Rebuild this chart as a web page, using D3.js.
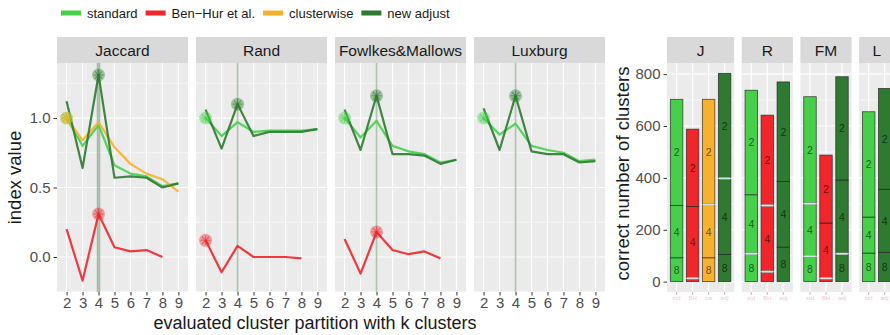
<!DOCTYPE html>
<html>
<head>
<meta charset="utf-8">
<script src="https://cdn.jsdelivr.net/npm/d3@7"></script>
<style>
  body { margin: 0; background: #fff; }
  svg { display: block; font-family: "Liberation Sans", Arial, sans-serif; }
</style>
</head>
<body>
<div id="chart"></div>
<script>
// ---- data ----
const ks = [2, 3, 4, 5, 6, 7, 8, 9];
const indices = ['Jaccard', 'Rand', 'Fowlkes&Mallows', 'Luxburg'];
const methods = ['standard', 'Ben\u2212Hur et al.', 'clusterwise', 'new adjust'];
const methodColors = ['#46d04a', '#f0262b', '#f8b12c', '#2e7a30'];

const jacStandard = [1.00, 0.80, 0.95, 0.66, 0.60, 0.58, 0.51, 0.53];
const jacBenHur = [0.20, -0.17, 0.31, 0.07, 0.04, 0.05, 0.00, null];
const jacClusterwise = [1.00, 0.84, 0.97, 0.79, 0.67, 0.60, 0.56, 0.47];
const jacNewAdjust = [1.12, 0.64, 1.31, 0.57, 0.58, 0.57, 0.50, 0.53];

const randStandard = [1.00, 0.87, 0.97, 0.90, 0.91, 0.91, 0.91, 0.92];
const randBenHur = [0.12, -0.11, 0.08, 0.00, 0.00, 0.00, -0.01, null];
const randNewAdjust = [1.06, 0.78, 1.10, 0.87, 0.90, 0.90, 0.90, 0.92];

const fmStandard = [1.00, 0.86, 0.98, 0.80, 0.76, 0.74, 0.68, 0.70];
const fmBenHur = [0.13, -0.12, 0.18, 0.05, 0.02, 0.04, -0.01, null];
const fmNewAdjust = [1.06, 0.77, 1.16, 0.74, 0.74, 0.73, 0.67, 0.70];

const luxStandard = [1.00, 0.88, 0.96, 0.80, 0.77, 0.75, 0.69, 0.70];
const luxNewAdjust = [1.07, 0.77, 1.16, 0.76, 0.74, 0.74, 0.68, 0.69];

const trueK = 4;

// bar part: counts of chosen k, stacked [k8, k5-7, k4, k3, k2]
const barFacets = ['J', 'R', 'FM', 'L'];
const segKeys = ['8', 'mid', '4', '3', '2'];
const barMethodsJ = [0, 1, 2, 3];
const barMethodsR = [0, 1, 3];
const barMethodsFM = [0, 1, 3];
const barMethodsL = [0, 3];
const countsJ = [[92, 0, 202, 0, 409], [10, 5, 275, 0, 298], [92, 0, 202, 5, 404], [105, 0, 290, 6, 402]];
const countsR = [[105, 5, 225, 0, 403], [36, 5, 250, 5, 346], [133, 0, 253, 0, 384]];
const countsFM = [[95, 5, 198, 5, 410], [10, 5, 211, 0, 262], [105, 5, 282, 0, 398]];
const countsL = [[110, 0, 139, 0, 406], [113, 0, 243, 0, 389]];
const barTickLabels = ['std', 'BH', 'cw', 'adj'];

const lineFacets = [
  { name: 'Jaccard', series: [[0, jacStandard], [1, jacBenHur], [2, jacClusterwise], [3, jacNewAdjust]] },
  { name: 'Rand', series: [[0, randStandard], [1, randBenHur], [3, randNewAdjust]] },
  { name: 'Fowlkes&Mallows', series: [[0, fmStandard], [1, fmBenHur], [3, fmNewAdjust]] },
  { name: 'Luxburg', series: [[0, luxStandard], [3, luxNewAdjust]] },
];
const barData = [
  { name: 'J', methods: barMethodsJ, counts: countsJ },
  { name: 'R', methods: barMethodsR, counts: countsR },
  { name: 'FM', methods: barMethodsFM, counts: countsFM },
  { name: 'L', methods: barMethodsL, counts: countsL },
];

// ---- layout ----
const W = 890, H = 335;
const panelTop = 63, panelBottom = 292, stripH = 26;
const linePanelW = 131, panelGap = 8, lineX0 = 57;
const barX0 = 667, barUnit = 16, barGap = 7.5;
const tickCol = '#4d4d4d', panelBg = '#ebebeb', stripBg = '#d9d9d9';

const svg = d3.select('#chart').append('svg')
  .attr('width', W)
  .attr('height', H);

function strip(x0, w, label) {
  svg.append('rect')
    .attr('x', x0).attr('y', panelTop - stripH)
    .attr('width', w).attr('height', stripH)
    .attr('fill', stripBg);
  svg.append('text')
    .attr('x', x0 + w / 2).attr('y', panelTop - stripH / 2 + 5.5)
    .attr('text-anchor', 'middle')
    .attr('font-size', 15.5)
    .attr('fill', '#1a1a1a')
    .text(label);
}

// ---- legend ----
const legend = svg.append('g');
let lx = 61;
methods.forEach((m, i) => {
  legend.append('rect')
    .attr('x', lx).attr('y', 10.5)
    .attr('width', 20).attr('height', 5)
    .attr('fill', methodColors[i]);
  const t = legend.append('text')
    .attr('x', lx + 26).attr('y', 17.5)
    .attr('font-size', 13)
    .attr('fill', '#1a1a1a')
    .text(m);
  lx += 26 + t.node().getComputedTextLength() + 8;
});

// ---- line panels ----
const y = d3.scaleLinear().domain([-0.252, 1.396]).range([panelBottom, panelTop]);

lineFacets.forEach((facet, fi) => {
  const x0 = lineX0 + fi * (linePanelW + panelGap);
  const x = d3.scalePoint().domain(ks).range([x0, x0 + linePanelW]).padding(0.6);
  const g = svg.append('g');

  g.append('rect')
    .attr('x', x0).attr('y', panelTop)
    .attr('width', linePanelW).attr('height', panelBottom - panelTop)
    .attr('fill', panelBg);
  g.selectAll('.minor')
    .data([-0.25, 0.25, 0.75, 1.25])
    .enter().append('line')
      .attr('x1', x0).attr('x2', x0 + linePanelW)
      .attr('y1', d => y(d)).attr('y2', d => y(d))
      .attr('stroke', '#fff').attr('stroke-width', 0.6);
  g.selectAll('.major')
    .data([0, 0.5, 1])
    .enter().append('line')
      .attr('x1', x0).attr('x2', x0 + linePanelW)
      .attr('y1', d => y(d)).attr('y2', d => y(d))
      .attr('stroke', '#fff').attr('stroke-width', 1.2);
  g.selectAll('.vgrid')
    .data(ks)
    .enter().append('line')
      .attr('x1', d => x(d)).attr('x2', d => x(d))
      .attr('y1', panelTop).attr('y2', panelBottom)
      .attr('stroke', '#fff').attr('stroke-width', 1.2);

  // true number of clusters
  g.append('line')
    .attr('x1', x(trueK)).attr('x2', x(trueK))
    .attr('y1', panelTop).attr('y2', panelBottom)
    .attr('stroke', '#4f7f52')
    .attr('stroke-opacity', 0.45)
    .attr('stroke-width', fi === 0 ? 3.5 : 1.6);

  const line = d3.line()
    .defined(d => d[1] !== null)
    .x(d => x(d[0]))
    .y(d => y(d[1]));

  facet.series.forEach(([mi, vals]) => {
    g.append('path')
      .datum(ks.map((k, j) => [k, vals[j]]))
      .attr('d', line)
      .attr('fill', 'none')
      .attr('stroke', methodColors[mi])
      .attr('stroke-width', 2.2)
      .attr('stroke-opacity', 0.9)
      .attr('stroke-linejoin', 'round');
  });

  // best k per method
  facet.series.forEach(([mi, vals]) => {
    const bi = d3.maxIndex(vals);
    const cx = x(ks[bi]), cy = y(vals[bi]);
    g.append('circle')
      .attr('cx', cx).attr('cy', cy).attr('r', 6.5)
      .attr('fill', methodColors[mi]).attr('fill-opacity', 0.4);
    [0, 45, 90, 135].forEach(a => {
      const r = a * Math.PI / 180;
      g.append('line')
        .attr('x1', cx - 5 * Math.cos(r)).attr('y1', cy - 5 * Math.sin(r))
        .attr('x2', cx + 5 * Math.cos(r)).attr('y2', cy + 5 * Math.sin(r))
        .attr('stroke', methodColors[mi]).attr('stroke-opacity', 0.55)
        .attr('stroke-width', 1.2);
    });
  });

  strip(x0, linePanelW, facet.name);

  const xAxis = svg.append('g')
    .attr('transform', `translate(0,${panelBottom})`)
    .call(d3.axisBottom(x).tickSize(3.5).tickPadding(2));
  xAxis.select('.domain').remove();
  xAxis.selectAll('line').attr('stroke', '#333');
  xAxis.selectAll('text').attr('font-size', 15).attr('fill', tickCol)
    .attr('font-family', '"Liberation Sans", Arial, sans-serif');

  if (fi === 0) {
    const yAxis = svg.append('g')
      .attr('transform', `translate(${x0},0)`)
      .call(d3.axisLeft(y).tickValues([0, 0.5, 1]).tickFormat(d3.format('.1f')).tickSize(3.5).tickPadding(3));
    yAxis.select('.domain').remove();
    yAxis.selectAll('line').attr('stroke', '#333');
    yAxis.selectAll('text').attr('font-size', 15).attr('fill', tickCol)
      .attr('font-family', '"Liberation Sans", Arial, sans-serif');
  }
});

svg.append('text')
  .attr('transform', `translate(21,${(panelTop + panelBottom) / 2}) rotate(-90)`)
  .attr('text-anchor', 'middle')
  .attr('font-size', 18.5)
  .attr('fill', '#1a1a1a')
  .text('index value');
svg.append('text')
  .attr('x', 315).attr('y', 329)
  .attr('text-anchor', 'middle')
  .attr('font-size', 18)
  .attr('fill', '#1a1a1a')
  .text('evaluated cluster partition with k clusters');

// ---- bar panels ----
const yb = d3.scaleLinear().domain([-40, 843]).range([panelBottom, panelTop]);
let bx = barX0;
barData.forEach((facet, fi) => {
  const n = facet.methods.length;
  const w = (n + 0.2) * barUnit;
  const x = d3.scaleBand()
    .domain(d3.range(n))
    .range([bx, bx + w])
    .paddingOuter(0.1)
    .paddingInner(0);
  const g = svg.append('g');

  g.append('rect')
    .attr('x', bx).attr('y', panelTop)
    .attr('width', w).attr('height', panelBottom - panelTop)
    .attr('fill', panelBg);
  g.selectAll('.minor')
    .data([100, 300, 500, 700])
    .enter().append('line')
      .attr('x1', bx).attr('x2', bx + w)
      .attr('y1', d => yb(d)).attr('y2', d => yb(d))
      .attr('stroke', '#fff').attr('stroke-width', 0.6);
  g.selectAll('.major')
    .data([0, 200, 400, 600, 800])
    .enter().append('line')
      .attr('x1', bx).attr('x2', bx + w)
      .attr('y1', d => yb(d)).attr('y2', d => yb(d))
      .attr('stroke', '#fff').attr('stroke-width', 1.2);
  g.selectAll('.vgrid')
    .data(d3.range(n))
    .enter().append('line')
      .attr('x1', d => x(d) + x.bandwidth() / 2).attr('x2', d => x(d) + x.bandwidth() / 2)
      .attr('y1', panelTop).attr('y2', panelBottom)
      .attr('stroke', '#fff').attr('stroke-width', 1.2);

  const barW = x.bandwidth() * 0.78;
  facet.counts.forEach((c, bi) => {
    const mi = facet.methods[bi];
    const stack = d3.cumsum(c);
    const bl = x(bi) + (x.bandwidth() - barW) / 2;
    // main segments first
    c.forEach((v, si) => {
      if (segKeys[si] === 'mid' || segKeys[si] === '3' || v === 0) return;
      const y0 = si === 0 ? 0 : stack[si - 1];
      g.append('rect')
        .attr('x', bl).attr('width', barW)
        .attr('y', yb(stack[si])).attr('height', yb(y0) - yb(stack[si]))
        .attr('fill', methodColors[mi])
        .attr('stroke', '#222').attr('stroke-opacity', 0.8)
        .attr('stroke-width', 0.8);
      if (v >= 60) {
        g.append('text')
          .attr('x', bl + barW / 2)
          .attr('y', (yb(y0) + yb(stack[si])) / 2 + 4)
          .attr('text-anchor', 'middle')
          .attr('font-size', 10.5)
          .attr('fill', '#000').attr('fill-opacity', 0.6)
          .text(segKeys[si]);
      }
    });
    // thin segments of other k
    c.forEach((v, si) => {
      if (!(segKeys[si] === 'mid' || segKeys[si] === '3') || v === 0) return;
      const y0 = si === 0 ? 0 : stack[si - 1];
      const hh = Math.max(2, yb(y0) - yb(stack[si]));
      g.append('rect')
        .attr('x', bl + 0.5).attr('width', barW - 1)
        .attr('y', (yb(y0) + yb(stack[si])) / 2 - hh / 2).attr('height', hh)
        .attr('fill', '#cfe6e2');
    });
  });

  strip(bx, w, facet.name);

  const xAxis = svg.append('g')
    .attr('transform', `translate(0,${panelBottom})`)
    .call(d3.axisBottom(x).tickSize(3).tickPadding(1)
      .tickFormat(i => barTickLabels[facet.methods[i]]));
  xAxis.select('.domain').remove();
  xAxis.selectAll('line').attr('stroke', '#bbb');
  xAxis.selectAll('text').attr('font-size', 6).attr('fill', '#f3c7d8')
    .attr('font-family', '"Liberation Sans", Arial, sans-serif');

  if (fi === 0) {
    const yAxis = svg.append('g')
      .attr('transform', `translate(${bx},0)`)
      .call(d3.axisLeft(yb).tickValues([0, 200, 400, 600, 800]).tickSize(3.5).tickPadding(3));
    yAxis.select('.domain').remove();
    yAxis.selectAll('line').attr('stroke', '#333');
    yAxis.selectAll('text').attr('font-size', 15).attr('fill', tickCol)
      .attr('font-family', '"Liberation Sans", Arial, sans-serif');
  }
  bx += w + barGap;
});

svg.append('text')
  .attr('transform', `translate(629,${(panelTop + panelBottom) / 2 - 4}) rotate(-90)`)
  .attr('text-anchor', 'middle')
  .attr('font-size', 18.5)
  .attr('fill', '#1a1a1a')
  .text('correct number of clusters');
</script>
</body>
</html>
